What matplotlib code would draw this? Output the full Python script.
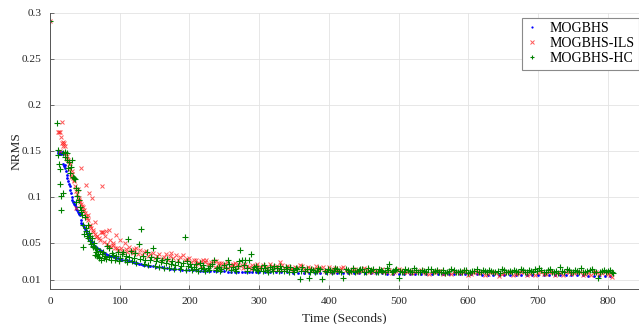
import numpy as np
import matplotlib
matplotlib.use("Agg")
import matplotlib.pyplot as plt

plt.rcParams['font.family'] = ['Liberation Serif', 'DejaVu Serif']

# (time [s], NRMS) samples for each method
mogbhs = [
    (0, 0.291),
    (11, 0.150), (12, 0.148), (13, 0.147), (14, 0.149), (15, 0.148), (16, 0.147),
    (17, 0.149), (18, 0.147), (19, 0.136), (20, 0.134), (21, 0.135), (22, 0.131),
    (23, 0.128), (24, 0.124), (25, 0.120), (26, 0.117), (27, 0.114), (28, 0.112),
    (29, 0.108), (30, 0.104), (31, 0.100), (32, 0.097), (33, 0.095), (34, 0.094),
    (35, 0.092), (36, 0.091), (37, 0.089), (38, 0.087), (39, 0.086), (40, 0.084),
    (41, 0.083), (42, 0.081), (43, 0.080), (44, 0.075), (45, 0.072), (46, 0.071),
    (47, 0.070), (48, 0.069), (49, 0.067), (50, 0.065), (51, 0.064), (52, 0.063),
    (53, 0.061), (54, 0.059), (55, 0.058), (56, 0.056), (57, 0.055), (58, 0.053),
    (59, 0.052), (60, 0.051), (62, 0.049), (64, 0.047), (66, 0.045), (68, 0.044),
    (70, 0.043), (72, 0.042), (74, 0.041), (76, 0.040), (78, 0.039), (80, 0.038),
    (83, 0.037), (86, 0.036), (89, 0.0355), (92, 0.035), (95, 0.034), (98, 0.0335),
    (101, 0.033), (104, 0.032), (107, 0.0315), (110, 0.031), (113, 0.0305),
    (116, 0.030), (119, 0.029), (122, 0.0285), (125, 0.028), (128, 0.0275),
    (131, 0.027), (134, 0.0265), (137, 0.026), (140, 0.0255), (144, 0.025),
    (148, 0.0245), (152, 0.024), (156, 0.0238), (160, 0.0234), (164, 0.023),
    (168, 0.0226), (172, 0.0222), (176, 0.022), (180, 0.0218), (185, 0.0214),
    (190, 0.021), (195, 0.0208), (200, 0.0206), (205, 0.0204), (210, 0.0202),
    (215, 0.020), (220, 0.0199), (225, 0.0197), (230, 0.0196), (235, 0.0195),
    (240, 0.0194), (245, 0.0193), (250, 0.0191), (255, 0.019), (260, 0.019),
    (265, 0.0189), (270, 0.0188), (275, 0.0187), (280, 0.0186), (285, 0.0186),
    (290, 0.0185), (295, 0.0184), (300, 0.0184), (308, 0.0183), (316, 0.0182),
    (324, 0.0182), (332, 0.0181), (340, 0.018), (348, 0.0179), (356, 0.0179),
    (364, 0.0178), (372, 0.0177), (380, 0.0177), (388, 0.0176), (396, 0.0175),
    (404, 0.0175), (412, 0.0174), (420, 0.0173), (428, 0.0173), (436, 0.0172),
    (444, 0.0171), (452, 0.0171), (460, 0.017), (468, 0.0169), (476, 0.0169),
    (484, 0.0168), (492, 0.0167), (500, 0.0167), (508, 0.0166), (516, 0.0165),
    (524, 0.0165), (532, 0.0164), (540, 0.0164), (548, 0.0163), (556, 0.0162),
    (564, 0.0162), (572, 0.0161), (580, 0.016), (588, 0.016), (596, 0.0159),
    (604, 0.0159), (612, 0.0158), (620, 0.0157), (628, 0.0157), (636, 0.0156),
    (644, 0.0156), (652, 0.0155), (660, 0.0154), (668, 0.0154), (676, 0.0153),
    (684, 0.0153), (692, 0.0152), (700, 0.0151), (708, 0.0151), (716, 0.015),
    (724, 0.015), (732, 0.0149), (740, 0.0149), (748, 0.0148), (756, 0.0147),
    (764, 0.0147), (772, 0.0146), (780, 0.0146), (788, 0.0145), (796, 0.0145),
    (804, 0.0144),
]

mogbhs_ils = [
    (0, 0.291),
    (12, 0.170), (13, 0.171), (14, 0.170), (15, 0.150), (16, 0.165), (17, 0.181),
    (17, 0.159), (18, 0.155), (19, 0.160), (20, 0.159), (21, 0.155), (22, 0.148),
    (24, 0.144), (25, 0.141), (26, 0.140), (27, 0.136), (28, 0.137), (29, 0.130),
    (30, 0.122), (31, 0.128), (32, 0.125), (33, 0.121), (34, 0.118), (35, 0.117),
    (36, 0.112), (37, 0.088), (38, 0.106), (39, 0.103), (40, 0.109), (41, 0.099),
    (42, 0.097), (43, 0.094), (44, 0.131), (45, 0.092), (46, 0.090), (47, 0.089),
    (48, 0.085), (49, 0.086), (50, 0.083), (51, 0.113), (52, 0.079), (53, 0.077),
    (54, 0.080), (55, 0.075), (56, 0.104), (57, 0.070), (58, 0.068), (59, 0.066),
    (60, 0.099), (61, 0.064), (62, 0.062), (64, 0.073), (65, 0.060), (66, 0.057),
    (68, 0.058), (70, 0.055), (72, 0.053), (73, 0.062), (74, 0.112), (75, 0.062),
    (76, 0.062), (78, 0.051), (79, 0.058), (81, 0.063), (82, 0.049), (84, 0.047),
    (85, 0.064), (86, 0.053), (88, 0.046), (90, 0.048), (91, 0.050), (93, 0.044),
    (95, 0.059), (96, 0.045), (98, 0.042), (100, 0.053), (102, 0.044), (104, 0.041),
    (107, 0.050), (109, 0.043), (111, 0.040), (114, 0.046), (116, 0.041),
    (119, 0.039), (121, 0.043), (124, 0.044), (126, 0.038), (129, 0.042),
    (132, 0.037), (135, 0.040), (138, 0.041), (141, 0.036), (144, 0.038),
    (148, 0.039), (151, 0.034), (154, 0.036), (157, 0.038), (160, 0.033),
    (163, 0.035), (167, 0.038), (170, 0.032), (172, 0.036), (174, 0.039),
    (177, 0.034), (181, 0.037), (184, 0.032), (187, 0.035), (191, 0.037),
    (194, 0.031), (197, 0.033), (200, 0.034), (203, 0.029), (206, 0.031),
    (210, 0.032), (213, 0.028), (217, 0.030), (220, 0.031), (224, 0.031),
    (227, 0.027), (231, 0.029), (235, 0.030), (238, 0.030), (242, 0.026),
    (246, 0.028), (250, 0.027), (254, 0.029), (258, 0.025), (262, 0.027),
    (266, 0.028), (270, 0.024), (275, 0.026), (280, 0.027), (285, 0.024),
    (290, 0.026), (295, 0.025), (300, 0.023), (305, 0.026), (310, 0.024),
    (315, 0.027), (320, 0.022), (325, 0.025), (330, 0.029), (335, 0.023),
    (340, 0.025), (346, 0.022), (352, 0.024), (358, 0.026), (364, 0.022),
    (370, 0.024), (376, 0.021), (382, 0.025), (388, 0.023), (394, 0.020),
    (400, 0.024), (406, 0.022), (412, 0.020), (418, 0.023), (424, 0.021),
    (430, 0.019), (437, 0.022), (444, 0.020), (451, 0.023), (458, 0.019),
    (465, 0.021), (472, 0.020), (479, 0.018), (486, 0.021), (493, 0.019),
    (500, 0.022), (508, 0.018), (516, 0.020), (524, 0.018), (532, 0.021),
    (540, 0.017), (548, 0.019), (556, 0.020), (564, 0.016), (572, 0.018),
    (580, 0.019), (588, 0.017), (596, 0.020), (604, 0.016), (612, 0.018),
    (620, 0.019), (628, 0.016), (636, 0.018), (644, 0.014), (652, 0.017),
    (660, 0.019), (668, 0.016), (676, 0.018), (684, 0.015), (692, 0.019),
    (700, 0.017), (708, 0.016), (716, 0.018), (724, 0.015), (732, 0.017),
    (740, 0.019), (748, 0.016), (756, 0.018), (764, 0.015), (772, 0.017),
    (780, 0.019), (788, 0.016), (796, 0.018), (804, 0.015), (806, 0.013),
    (209, 0.027), (216, 0.025), (223, 0.029), (229, 0.026), (236, 0.024),
    (243, 0.028), (249, 0.025), (256, 0.023), (263, 0.026), (269, 0.027),
    (277, 0.023), (283, 0.025), (289, 0.022), (297, 0.027), (303, 0.024),
    (312, 0.022), (318, 0.025), (327, 0.021), (333, 0.026), (343, 0.024),
    (349, 0.021), (355, 0.023), (361, 0.025), (367, 0.020), (373, 0.023),
    (379, 0.022), (385, 0.020), (391, 0.024), (397, 0.021), (403, 0.019),
    (409, 0.023), (415, 0.021), (421, 0.024), (427, 0.020), (434, 0.022),
    (441, 0.018), (448, 0.021), (455, 0.022), (462, 0.018), (469, 0.020),
    (476, 0.022), (483, 0.019), (490, 0.017), (497, 0.020), (504, 0.021),
    (512, 0.019), (520, 0.017), (528, 0.020), (536, 0.019), (544, 0.016),
    (552, 0.018), (560, 0.020), (568, 0.017), (576, 0.016), (584, 0.019),
    (592, 0.018), (600, 0.015), (608, 0.019), (616, 0.017), (624, 0.015),
    (632, 0.019), (640, 0.017), (648, 0.016), (656, 0.018), (664, 0.015),
    (672, 0.017), (680, 0.019), (688, 0.016), (696, 0.015), (704, 0.018),
    (712, 0.016), (720, 0.019), (728, 0.017), (736, 0.015), (744, 0.018),
    (752, 0.017), (760, 0.019), (768, 0.016), (776, 0.015), (784, 0.018),
    (792, 0.017), (800, 0.016), (805, 0.018),
]

mogbhs_hc = [
    (0, 0.291),
    (10, 0.180), (11, 0.151), (12, 0.146), (13, 0.136), (14, 0.130), (15, 0.114),
    (16, 0.101), (16, 0.0855), (18, 0.104), (19, 0.148), (21, 0.143), (22, 0.149),
    (24, 0.148), (25, 0.140), (26, 0.131), (27, 0.138), (28, 0.126), (30, 0.133),
    (32, 0.140), (33, 0.122), (34, 0.121), (36, 0.119), (37, 0.110), (38, 0.094),
    (39, 0.101), (40, 0.108), (41, 0.097), (43, 0.0895), (44, 0.086), (45, 0.084),
    (46, 0.080), (47, 0.0457), (48, 0.070), (49, 0.060), (50, 0.078), (51, 0.066),
    (52, 0.063), (53, 0.058), (54, 0.070), (55, 0.055), (56, 0.061), (57, 0.058),
    (58, 0.052), (59, 0.049), (60, 0.055), (61, 0.047), (62, 0.046), (63, 0.050),
    (64, 0.037), (65, 0.044), (66, 0.040), (67, 0.036), (68, 0.043), (69, 0.038),
    (70, 0.034), (71, 0.035), (72, 0.041), (73, 0.032), (74, 0.038), (76, 0.040),
    (77, 0.034), (79, 0.036), (81, 0.033), (82, 0.047), (84, 0.035), (85, 0.044),
    (87, 0.031), (89, 0.039), (91, 0.037), (93, 0.032), (95, 0.036), (97, 0.040),
    (99, 0.030), (101, 0.034), (103, 0.038), (105, 0.040), (107, 0.031),
    (109, 0.036), (111, 0.029), (112, 0.054), (114, 0.035), (116, 0.041),
    (118, 0.030), (120, 0.034), (122, 0.039), (124, 0.028), (127, 0.049),
    (129, 0.033), (131, 0.065), (133, 0.036), (135, 0.027), (137, 0.032),
    (139, 0.040), (141, 0.026), (143, 0.031), (145, 0.035), (148, 0.045),
    (150, 0.025), (152, 0.030), (154, 0.034), (157, 0.024), (159, 0.029),
    (161, 0.032), (164, 0.023), (166, 0.028), (168, 0.033), (171, 0.023),
    (173, 0.027), (175, 0.030), (178, 0.022), (180, 0.026), (183, 0.029),
    (186, 0.022), (188, 0.025), (191, 0.028), (193, 0.0565), (195, 0.021),
    (198, 0.025), (201, 0.027), (204, 0.021), (207, 0.024), (210, 0.027),
    (213, 0.020), (216, 0.023), (220, 0.026), (223, 0.020), (226, 0.023),
    (230, 0.025), (235, 0.032), (238, 0.021), (242, 0.024), (246, 0.022),
    (250, 0.026), (255, 0.031), (259, 0.021), (263, 0.024), (267, 0.020),
    (271, 0.030), (273, 0.042), (276, 0.032), (280, 0.031), (283, 0.023),
    (286, 0.031), (288, 0.038), (291, 0.022), (295, 0.025), (299, 0.020),
    (303, 0.023), (307, 0.026), (311, 0.021), (315, 0.024), (320, 0.020),
    (325, 0.023), (330, 0.025), (335, 0.020), (340, 0.022), (345, 0.024),
    (350, 0.019), (355, 0.022), (358, 0.0105), (362, 0.024), (366, 0.020),
    (371, 0.0115), (375, 0.022), (380, 0.019), (385, 0.023), (390, 0.0105),
    (394, 0.020), (399, 0.022), (404, 0.019), (409, 0.023), (414, 0.020),
    (420, 0.0115), (424, 0.022), (429, 0.019), (434, 0.023), (440, 0.020),
    (445, 0.022), (450, 0.019), (456, 0.023), (461, 0.021), (467, 0.019),
    (472, 0.022), (477, 0.020), (483, 0.023), (487, 0.027), (492, 0.020),
    (497, 0.022), (500, 0.012), (505, 0.019), (510, 0.022), (516, 0.020),
    (522, 0.023), (528, 0.019), (534, 0.021), (540, 0.018), (546, 0.022),
    (552, 0.020), (558, 0.018), (564, 0.021), (570, 0.019), (576, 0.022),
    (582, 0.018), (588, 0.020), (594, 0.021), (600, 0.017), (606, 0.020),
    (612, 0.022), (618, 0.018), (624, 0.020), (630, 0.021), (636, 0.018),
    (642, 0.020), (648, 0.022), (654, 0.018), (660, 0.020), (666, 0.021),
    (672, 0.019), (678, 0.021), (684, 0.018), (690, 0.020), (696, 0.022),
    (702, 0.023), (708, 0.019), (714, 0.021), (720, 0.018), (726, 0.020),
    (732, 0.024), (738, 0.019), (744, 0.021), (750, 0.018), (756, 0.020),
    (762, 0.023), (768, 0.019), (774, 0.021), (780, 0.018), (786, 0.012),
    (792, 0.020), (798, 0.019), (804, 0.021), (807, 0.017),
    (197, 0.030), (203, 0.024), (209, 0.022), (215, 0.028), (221, 0.022),
    (228, 0.021), (233, 0.027), (240, 0.023), (244, 0.020), (252, 0.023),
    (257, 0.027), (265, 0.022), (269, 0.025), (278, 0.026), (282, 0.020),
    (293, 0.024), (297, 0.021), (305, 0.020), (309, 0.023), (313, 0.019),
    (318, 0.022), (322, 0.025), (328, 0.020), (332, 0.022), (338, 0.024),
    (343, 0.019), (348, 0.021), (353, 0.023), (360, 0.020), (368, 0.022),
    (373, 0.018), (378, 0.021), (383, 0.020), (388, 0.022), (397, 0.019),
    (402, 0.021), (407, 0.020), (412, 0.022), (417, 0.018), (427, 0.021),
    (432, 0.020), (437, 0.018), (443, 0.021), (448, 0.022), (453, 0.018),
    (459, 0.020), (464, 0.022), (470, 0.018), (475, 0.021), (480, 0.019),
    (485, 0.021), (490, 0.018), (495, 0.021), (502, 0.020), (508, 0.018),
    (513, 0.021), (519, 0.019), (525, 0.021), (531, 0.018), (537, 0.020),
    (543, 0.022), (549, 0.018), (555, 0.021), (561, 0.019), (567, 0.017),
    (573, 0.020), (579, 0.021), (585, 0.018), (591, 0.019), (597, 0.021),
    (603, 0.018), (609, 0.020), (615, 0.019), (621, 0.021), (627, 0.018),
    (633, 0.020), (639, 0.019), (645, 0.017), (651, 0.021), (657, 0.019),
    (663, 0.018), (669, 0.020), (675, 0.022), (681, 0.019), (687, 0.021),
    (693, 0.018), (699, 0.020), (705, 0.021), (711, 0.018), (717, 0.022),
    (723, 0.019), (729, 0.017), (735, 0.020), (741, 0.022), (747, 0.019),
    (753, 0.021), (759, 0.019), (765, 0.018), (771, 0.020), (777, 0.022),
    (783, 0.019), (789, 0.018), (795, 0.021), (801, 0.020), (806, 0.018),
]

xticks = [0, 100, 200, 300, 400, 500, 600, 700, 800]
yticks = [0.01, 0.05, 0.1, 0.15, 0.2, 0.25, 0.3]
ytick_labels = ['0.01', '0.05', '0.1', '0.15', '0.2', '0.25', '0.3']

W, H = 639, 324
fig = plt.figure(figsize=(W / 100, H / 100), dpi=100)
ax = fig.add_axes([50 / W, 35 / H, (W - 50) / W, 276.3 / H])

series = [
    (mogbhs, 'MOGBHS', dict(marker='.', color='#0000ff', ms=4, mew=0)),
    (mogbhs_ils, 'MOGBHS-ILS', dict(marker='x', color='#ff2020', ms=3, mew=0.7, alpha=0.75)),
    (mogbhs_hc, 'MOGBHS-HC', dict(marker='+', color='#008000', ms=4.2, mew=0.8)),
]
for pts, name, style in series:
    arr = np.array(pts)
    ax.plot(arr[:, 0], arr[:, 1], ls='none', label=name, **style)

ax.set_xlim(0, 845)
ax.set_ylim(0, 0.3)
ax.set_xticks(xticks)
ax.set_yticks(yticks)
ax.set_yticklabels(ytick_labels)
ax.grid(True, color='#e3e3e3', lw=0.6)
ax.set_axisbelow(True)

for s in ('top', 'right'):
    ax.spines[s].set_visible(False)
for s in ('left', 'bottom'):
    ax.spines[s].set_color('#555555')
    ax.spines[s].set_linewidth(0.7)
ax.tick_params(direction='in', length=3, width=0.6, colors='#555555',
               labelcolor='#262626', labelsize=8.2, pad=6)

ax.set_xlabel('Time (Seconds)', fontsize=9.6, color='#262626', labelpad=4)
ax.set_ylabel('NRMS', fontsize=9.6, color='#262626', labelpad=-1)

leg = ax.legend(loc='upper right', bbox_to_anchor=(1.0, 1 - 18 / H),
                bbox_transform=fig.transFigure, borderaxespad=0,
                fontsize=10, fancybox=False, framealpha=1,
                edgecolor='#8a8a8a', handlelength=0.8, handletextpad=0.9,
                borderpad=0.3, labelspacing=0.15, markerscale=0.8)
leg.get_frame().set_linewidth(0.8)

fig.savefig('out.png', dpi=100)
